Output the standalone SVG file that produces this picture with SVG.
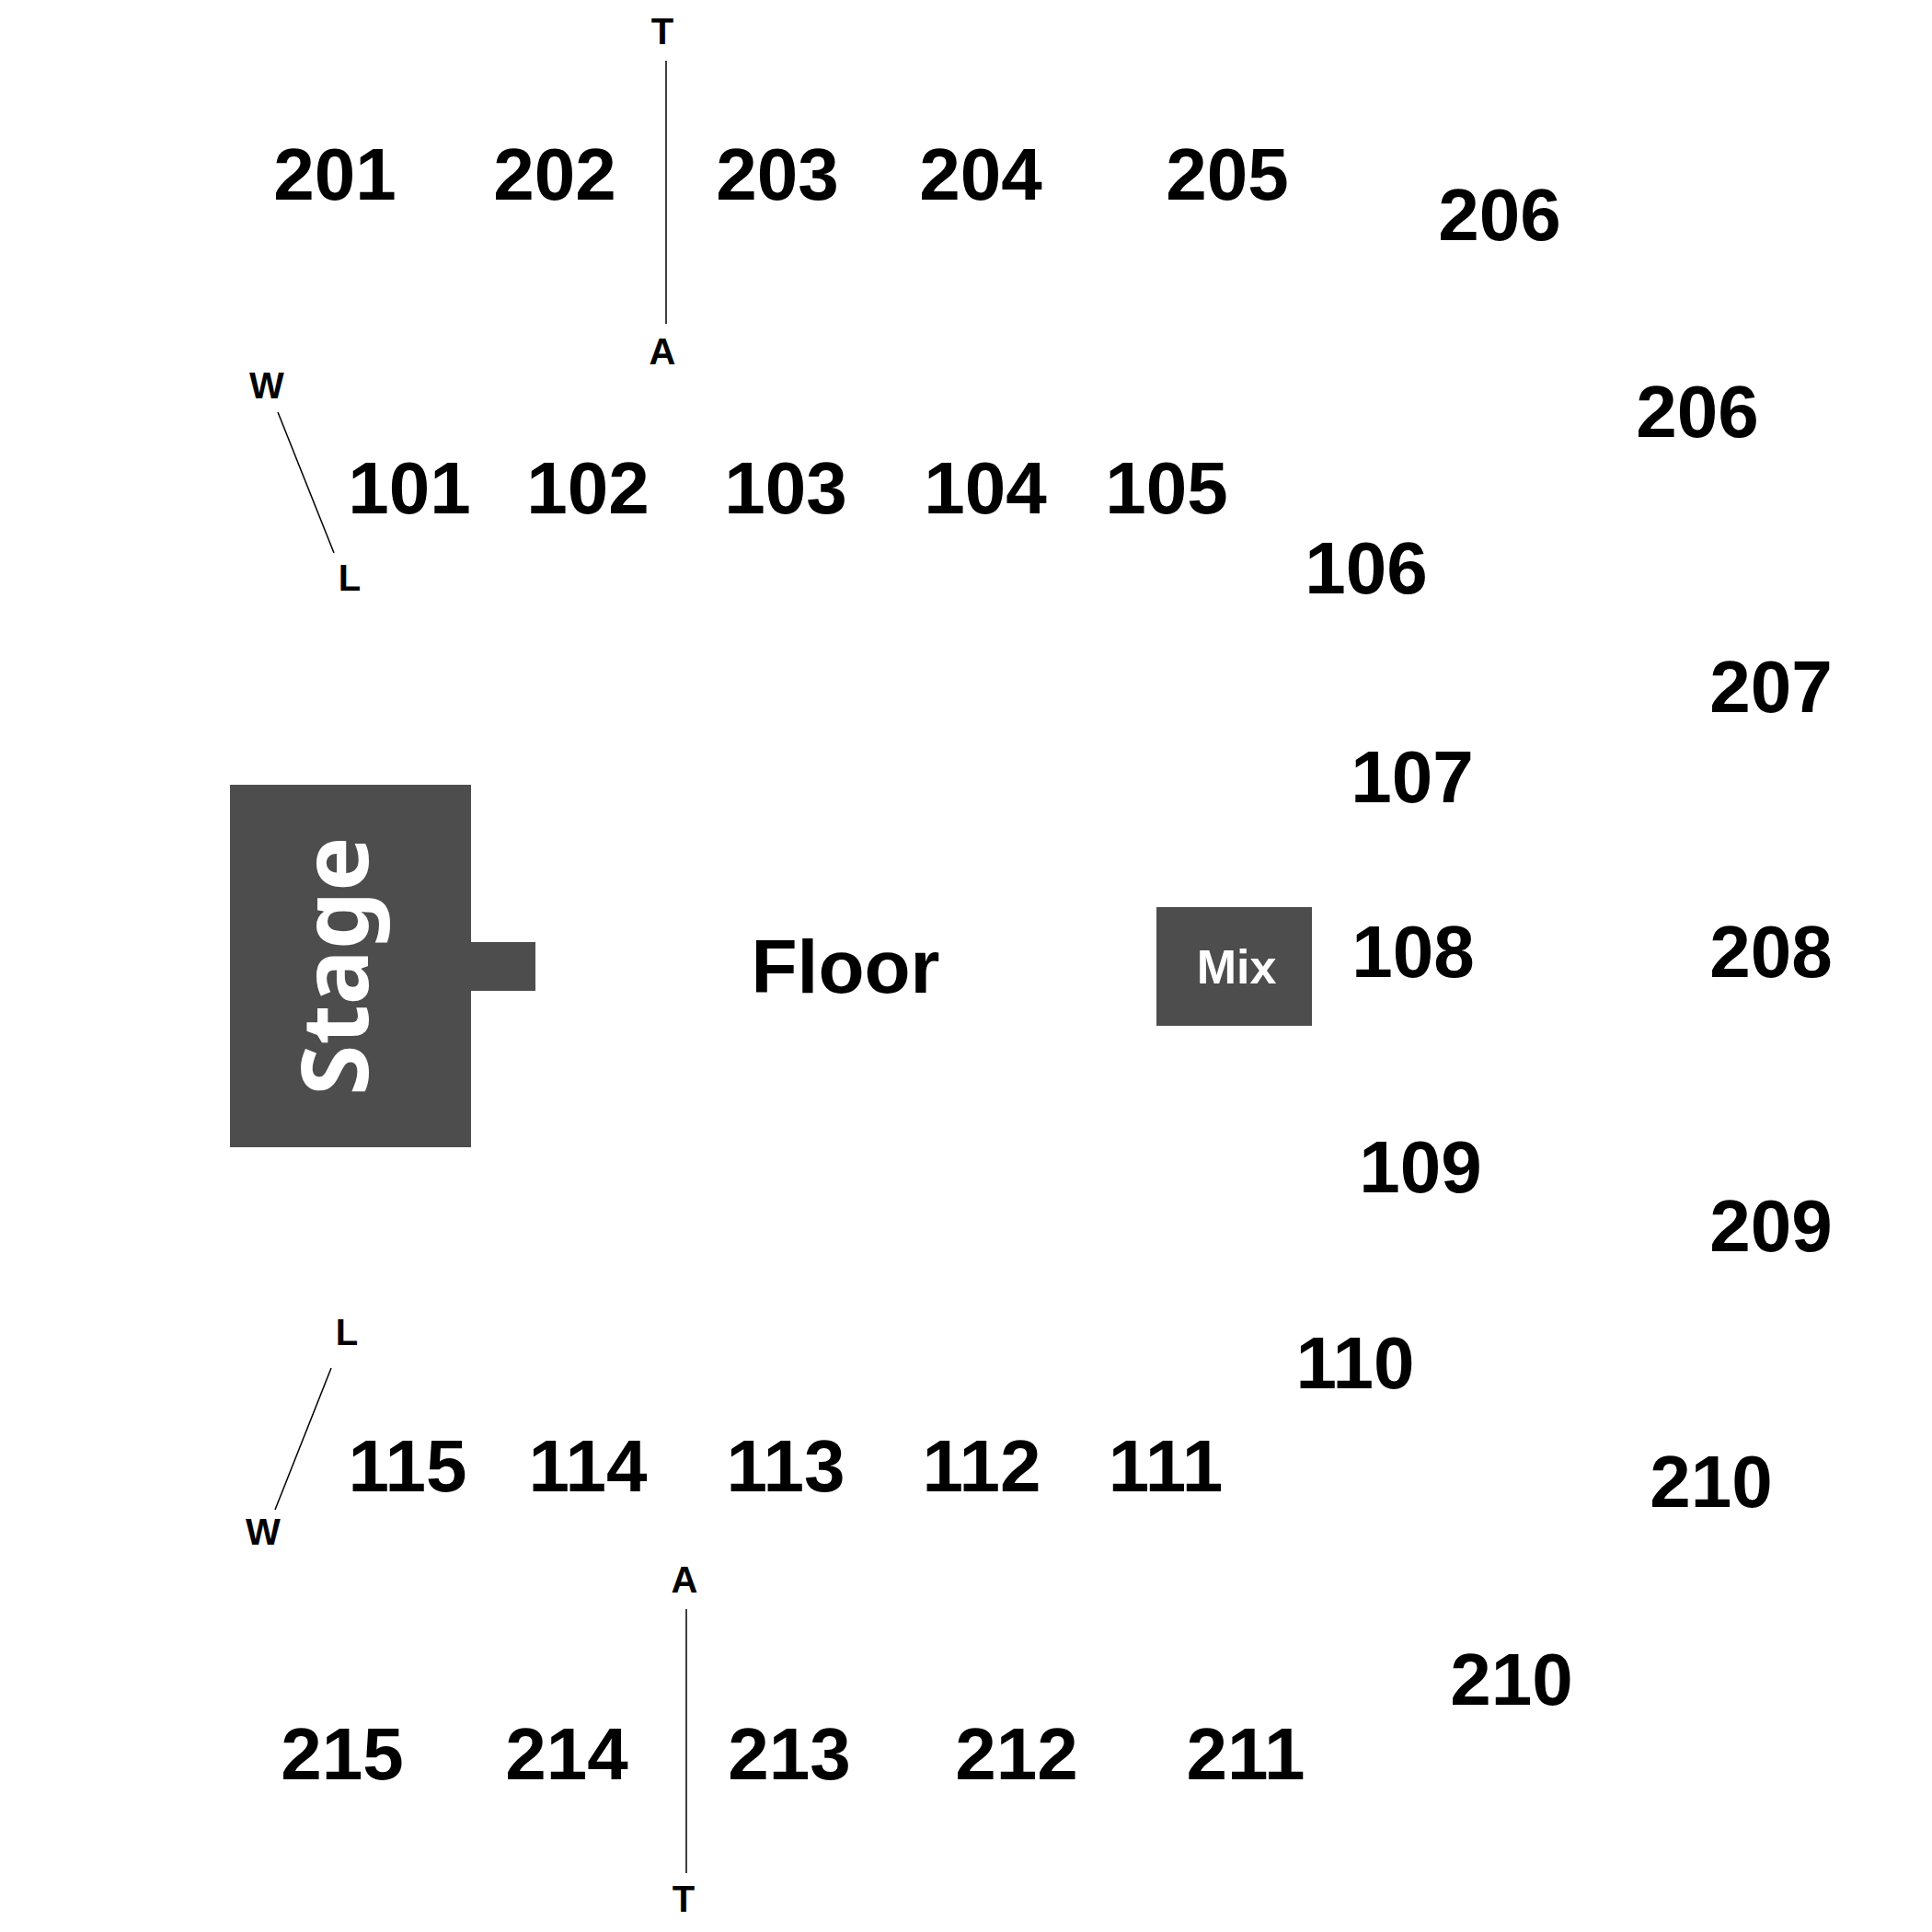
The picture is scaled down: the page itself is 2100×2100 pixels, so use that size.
<svg xmlns="http://www.w3.org/2000/svg" width="2100" height="2100" viewBox="0 0 2100 2100">
<style>
.sec{font-family:"Liberation Sans",Arial,sans-serif;font-weight:bold;font-size:80px;fill:#000;text-anchor:middle}
.lbl{font-family:"Liberation Sans",Arial,sans-serif;font-weight:bold;font-size:40px;fill:#000;text-anchor:middle}
.blk{fill:#4d4d4d}
.ln{stroke:#000;stroke-width:1.5;fill:none}
</style>
<rect width="2100" height="2100" fill="#fff"/>
<g id="stage">
<path class="blk" d="M250,853 H512 V1024 H582 V1077 H512 V1247 H250 Z"/>
<text x="400" y="1050" transform="rotate(-90 400 1050)" style="font-family:'Noto Sans','Open Sans',sans-serif;font-weight:bold;font-size:100px;fill:#fff;text-anchor:middle">Stage</text>
</g>
<g id="floor"><text class="sec" x="919" y="1079" style="font-size:82px">Floor</text></g>
<g id="mix">
<rect class="blk" x="1257" y="986" width="169" height="129"/>
<text x="1344" y="1069" style="font-family:'Liberation Sans',Arial,sans-serif;font-weight:bold;font-size:52px;fill:#fff;text-anchor:middle">Mix</text>
</g>
<g id="connectors">
<line class="ln" x1="724" y1="66" x2="724" y2="352"/>
<line class="ln" x1="302" y1="448" x2="363" y2="601"/>
<line class="ln" x1="360" y1="1487" x2="299" y2="1641"/>
<line class="ln" x1="746" y1="1749" x2="746" y2="2036"/>
</g>
<g id="markers">
<text class="lbl" x="720" y="48">T</text>
<text class="lbl" x="720" y="396">A</text>
<text class="lbl" x="290" y="433">W</text>
<text class="lbl" x="380" y="642">L</text>
<text class="lbl" x="377" y="1462">L</text>
<text class="lbl" x="286" y="1679">W</text>
<text class="lbl" x="744" y="1731">A</text>
<text class="lbl" x="743" y="2078">T</text>
</g>
<g id="sections-200">
<text id="s201" class="sec" x="364" y="217">201</text>
<text id="s202" class="sec" x="603" y="217">202</text>
<text id="s203" class="sec" x="845" y="217">203</text>
<text id="s204" class="sec" x="1066" y="217">204</text>
<text id="s205" class="sec" x="1334" y="217">205</text>
<text id="s206a" class="sec" x="1630" y="261">206</text>
<text id="s206b" class="sec" x="1845" y="475">206</text>
<text id="s207" class="sec" x="1925" y="774">207</text>
<text id="s208" class="sec" x="1925" y="1062">208</text>
<text id="s209" class="sec" x="1925" y="1360">209</text>
<text id="s210a" class="sec" x="1860" y="1638">210</text>
<text id="s210b" class="sec" x="1643" y="1853">210</text>
<text id="s211" class="sec" x="1354" y="1934">211</text>
<text id="s212" class="sec" x="1105" y="1934">212</text>
<text id="s213" class="sec" x="858" y="1934">213</text>
<text id="s214" class="sec" x="616" y="1934">214</text>
<text id="s215" class="sec" x="372" y="1934">215</text>
</g>
<g id="sections-100">
<text id="s101" class="sec" x="445" y="558">101</text>
<text id="s102" class="sec" x="639" y="558">102</text>
<text id="s103" class="sec" x="854" y="558">103</text>
<text id="s104" class="sec" x="1071" y="558">104</text>
<text id="s105" class="sec" x="1268" y="558">105</text>
<text id="s106" class="sec" x="1485" y="645">106</text>
<text id="s107" class="sec" x="1535" y="872">107</text>
<text id="s108" class="sec" x="1536" y="1062">108</text>
<text id="s109" class="sec" x="1544" y="1296">109</text>
<text id="s110" class="sec" x="1473" y="1509">110</text>
<text id="s111" class="sec" x="1267" y="1621">111</text>
<text id="s112" class="sec" x="1067" y="1621">112</text>
<text id="s113" class="sec" x="854" y="1621">113</text>
<text id="s114" class="sec" x="639" y="1621">114</text>
<text id="s115" class="sec" x="443" y="1621">115</text>
</g>
</svg>
